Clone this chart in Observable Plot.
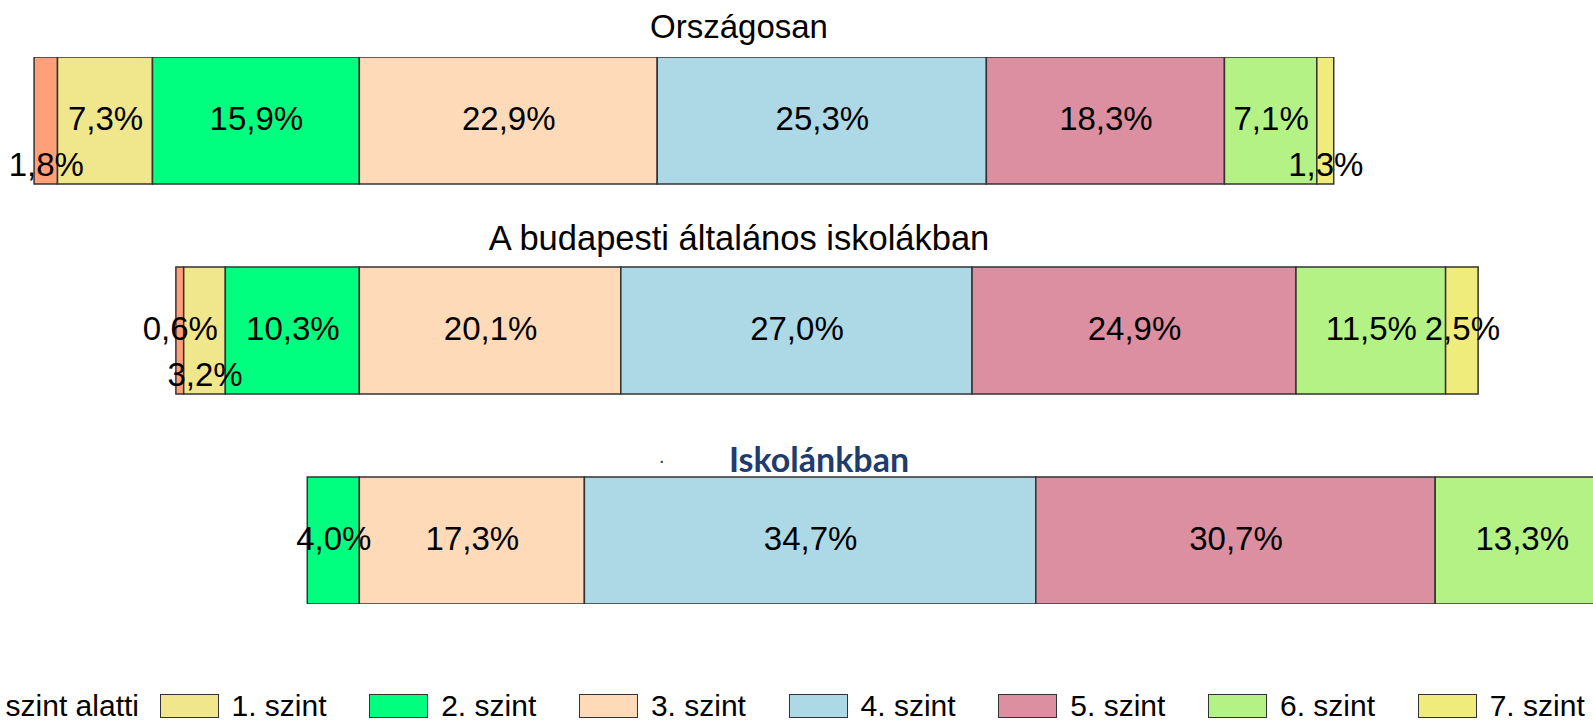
<!DOCTYPE html>
<html>
<head>
<meta charset="utf-8">
<script src="https://cdn.jsdelivr.net/npm/d3@7"></script>
<script src="https://cdn.jsdelivr.net/npm/@observablehq/plot@0.6"></script>
<style>
  html, body { margin: 0; padding: 0; background: #fff; width: 1593px; height: 721px; overflow: hidden; position: relative; }
  #chart svg { overflow: hidden; display: block; }
  #legend { position: absolute; left: 0; top: 694px; width: 1593px; height: 27px; font-family: "Liberation Sans", Arial, sans-serif; }
  .item { position: absolute; top: 0; height: 24px; display: flex; align-items: center; }
  .sw { width: 57px; height: 22px; border: 1px solid #333; flex: none; }
  .lab { font-size: 30px; color: #000; white-space: nowrap; margin-left: 13px; line-height: 24px; }
</style>
</head>
<body>
<div id="chart"></div>
<div id="legend"></div>
<script>
// ---- data ----
const groups = ["Országosan", "A budapesti általános iskolákban", "Iskolánkban"];
const levels = ["1. szint alatti", "1. szint", "2. szint", "3. szint", "4. szint", "5. szint", "6. szint", "7. szint"];
const orszagos = [1.8, 7.3, 15.9, 22.9, 25.3, 18.3, 7.1, 1.3];
const budapest = [0.6, 3.2, 10.3, 20.1, 27.0, 24.9, 11.5, 2.5];
const iskola   = [0, 0, 4.0, 17.3, 34.7, 30.7, 13.3, 0];
const colors = ["#FFA07A", "#F0E68C", "#00FF7F", "#FFDAB9", "#ADD8E6", "#DB8FA0", "#B4F286", "#F0EC7C"];

// ---- build table: bars diverge at the 2./3. szint boundary ----
const series = [orszagos, budapest, iskola];
const rows = [];
groups.forEach((g, gi) => {
  const vals = series[gi];
  let acc = -(vals[0] + vals[1] + vals[2]);
  vals.forEach((v, li) => {
    if (v > 0) rows.push({group: g, level: levels[li], value: v, x1: acc, x2: acc + v});
    acc += v;
  });
});
const fmt = v => v.toFixed(1).replace(".", ",") + "%";
const lowered = new Set(["Országosan|1. szint alatti", "Országosan|7. szint", "A budapesti általános iskolákban|1. szint"]);
const isLow = d => lowered.has(d.group + "|" + d.level);

const chart = Plot.plot({
  width: 1593,
  height: 640,
  marginLeft: 0, marginRight: 0, marginTop: 57, marginBottom: 36,
  x: {domain: [-27.62, 94.83], axis: null},
  y: {domain: groups, axis: null, paddingInner: 0.397, paddingOuter: 0},
  color: {domain: levels, range: colors},
  style: {fontFamily: "'Liberation Sans', Arial, sans-serif", background: "#fff", overflow: "hidden"},
  marks: [
    Plot.barX(rows, {x1: "x1", x2: "x2", y: "group", fill: "level", stroke: "#333", strokeWidth: 1.5, clip: true}),
    Plot.text(rows.filter(d => !isLow(d)), {x: d => (d.x1 + d.x2) / 2, y: "group", text: d => fmt(d.value), fontSize: 33, fill: "#000", dy: -2, clip: true}),
    Plot.text(rows.filter(isLow), {x: d => (d.x1 + d.x2) / 2, y: "group", text: d => fmt(d.value), fontSize: 33, fill: "#000", dy: 44, clip: true}),
    Plot.text([groups[0]], {y: d => d, text: d => d, frameAnchor: "middle", dx: -58, dy: -94, fontSize: 33, fill: "#000"}),
    Plot.text([groups[1]], {y: d => d, text: d => d, frameAnchor: "middle", dx: -58, dy: -92, fontSize: 34.5, fill: "#000"}),
    Plot.text([groups[2]], {y: d => d, text: d => d, frameAnchor: "middle", dx: 22, dy: -80, fontSize: 34, fontWeight: "bold", fontFamily: "Lato, 'Open Sans', sans-serif", fill: "#1F3C6E"}),
    Plot.text([groups[2]], {y: d => d, text: () => "·", frameAnchor: "middle", dx: -135, dy: -78, fontSize: 14, fontWeight: "bold", fill: "#345"})
  ]
});
document.getElementById("chart").appendChild(chart);

// ---- legend ----
const legend = document.getElementById("legend");
const step = 209.7, firstLeft = 159.5;
levels.forEach((lv, i) => {
  const item = document.createElement("div");
  item.className = "item";
  const sw = document.createElement("div");
  sw.className = "sw";
  sw.style.background = colors[i];
  const lab = document.createElement("span");
  lab.className = "lab";
  lab.textContent = lv;
  item.appendChild(sw);
  item.appendChild(lab);
  legend.appendChild(item);
  if (i === 0) {
    // first item is cut off at the left edge: its label ends at x≈139
    const w = lab.getBoundingClientRect().width;
    item.style.left = (139 - w - 13 - 59) + "px";
  } else {
    item.style.left = (firstLeft + (i - 1) * step) + "px";
  }
});
</script>
</body>
</html>
